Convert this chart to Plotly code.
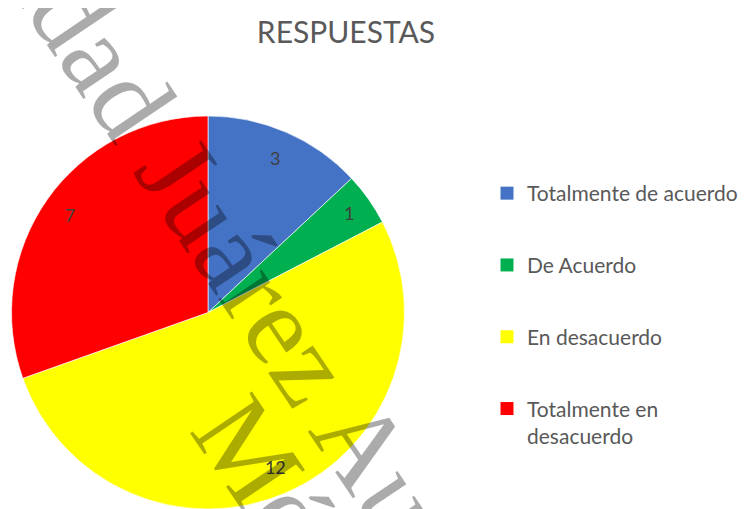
import textwrap
import plotly.graph_objects as go

# ---- data ----
categories = ["Totalmente de acuerdo", "De Acuerdo", "En desacuerdo", "Totalmente en desacuerdo"]
values = [3, 1, 12, 7]
colors = ["#4472C4", "#00B050", "#FFFF00", "#FF0000"]
title_text = "RESPUESTAS"
watermark_lines = ["Universidad Juárez Autónoma de Tabasco", "México"]

# The page body has an 8px default margin; the figure is sized to the visible area.
OFF = 8
FW, FH = 748 - OFF, 509 - OFF


def px(X):  # window pixel x -> paper fraction
    return (X - OFF) / FW


def py(Y):  # window pixel y -> paper fraction
    return 1 - (Y - OFF) / FH


pie_domain = dict(x=[px(11), px(405)], y=[0.0, py(116)])

fig = go.Figure()

# main pie
fig.add_trace(go.Pie(
    labels=categories, values=values, sort=False, direction="clockwise", rotation=0,
    marker=dict(colors=colors, line=dict(color="rgba(255,255,255,0.8)", width=0.8)),
    textinfo="none", showlegend=False, domain=pie_domain, hoverinfo="label+value",
))
# value labels placed in an outer ring (transparent donut on top)
fig.add_trace(go.Pie(
    labels=categories, values=values, sort=False, direction="clockwise", rotation=0,
    hole=0.72, marker=dict(colors=["rgba(0,0,0,0)"] * len(values), line=dict(width=0)),
    textinfo="value", textposition="inside", insidetextorientation="horizontal",
    textfont=dict(family="Lato", size=18, color="#404040"),
    showlegend=False, domain=pie_domain, hoverinfo="skip",
))

# legend entries
for cat, col in zip(categories, colors):
    fig.add_trace(go.Scatter(
        x=[None], y=[None], mode="markers", name="<br>".join(textwrap.wrap(cat, 21)),
        legendgroup=cat, marker=dict(symbol="square", size=13, color=col),
        hoverinfo="skip",
    ))

fig.update_layout(
    width=FW, height=FH,
    margin=dict(l=0, r=0, t=0, b=0, autoexpand=False),
    paper_bgcolor="white", plot_bgcolor="rgba(0,0,0,0)",
    xaxis=dict(visible=False), yaxis=dict(visible=False),
    title=dict(text=title_text, xref="paper", x=px(346), xanchor="center", y=py(32), yanchor="middle",
               yref="container", font=dict(family="Lato", size=30, color="#595959")),
    legend=dict(x=px(487), xanchor="left", y=py(173), yanchor="top", valign="top",
                tracegroupgap=41.5, font=dict(family="Lato", size=21, color="#595959"),
                bgcolor="rgba(0,0,0,0)"),
    showlegend=True,
)

# watermark
fig.add_annotation(text=watermark_lines[0], xref="paper", yref="paper", x=px(372), y=py(457),
                   xanchor="center", yanchor="middle", textangle=56, showarrow=False,
                   font=dict(family="Liberation Serif", size=114, color="rgba(0,0,0,0.33)"))
fig.add_annotation(text=watermark_lines[1], xref="paper", yref="paper", x=px(318), y=py(553),
                   xanchor="center", yanchor="middle", textangle=56, showarrow=False,
                   font=dict(family="Liberation Serif", size=114, color="rgba(0,0,0,0.33)"))

fig.write_html("out.html")
